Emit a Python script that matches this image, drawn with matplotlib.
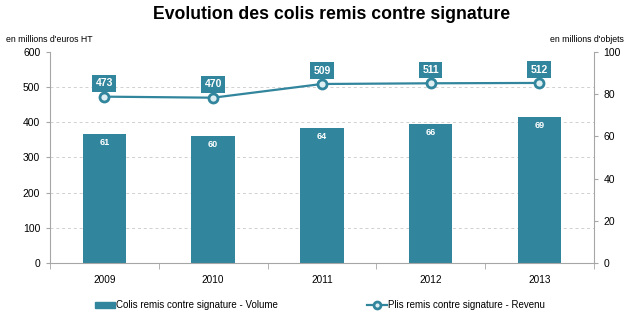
import matplotlib.pyplot as plt
from matplotlib.lines import Line2D
from matplotlib.patches import Patch

plt.rcParams['font.family'] = ['Liberation Sans', 'DejaVu Sans']

years = ["2009", "2010", "2011", "2012", "2013"]
volume = [61, 60, 64, 66, 69]          # millions d'objets (right axis)
revenue = [473, 470, 509, 511, 512]    # millions d'euros HT (left axis)

teal = "#31859C"
grey = "#A6A6A6"

fig = plt.figure(figsize=(6.33, 3.23), dpi=100)
ax = fig.add_axes([0.079, 0.186, 0.859, 0.653])
ax2 = ax.twinx()

x = list(range(len(years)))

# bars on right axis
ax2.bar(x, volume, width=0.4, color=teal, zorder=2)
for xi, v in zip(x, volume):
    ax2.text(xi, v - 4.0, str(v), ha="center", va="center", color="white",
             fontsize=6.5, fontweight="bold", zorder=3)

# line on left axis, drawn above bars
ax.set_zorder(ax2.get_zorder() + 1)
ax.patch.set_visible(False)
ax.plot(x, revenue, color=teal, lw=1.6, marker="o", ms=6.5,
        mfc="#DDEFF3", mec=teal, mew=2, zorder=4)
for xi, v in zip(x, revenue):
    ax.text(xi, v + 38, str(v), ha="center", va="center", color="white",
            fontsize=7.5, fontweight="bold", zorder=5,
            bbox=dict(boxstyle="square,pad=0.32", fc=teal, ec="none"))

ax.set_xlim(-0.5, len(years) - 0.5)
ax.set_ylim(0, 600)
ax.set_yticks(range(0, 601, 100))
ax2.set_ylim(0, 100)
ax2.set_yticks(range(0, 101, 20))

# grid behind the bars: minor ticks on the right axis at the left-axis steps
ax2.set_yticks([v / 6 for v in range(0, 601, 100)], minor=True)
ax2.tick_params(axis="y", which="minor", length=0)
ax2.yaxis.grid(True, which="minor", ls=(0, (3, 3)), color="#D0D0D0", lw=0.7)
ax2.set_axisbelow(True)

ax.set_xticks(x)
ax.set_xticklabels(years, fontsize=7.2)
ax.set_xticks([i - 0.5 for i in range(len(years) + 1)], minor=True)
ax.tick_params(axis="x", which="major", length=0, pad=9)
ax.tick_params(axis="x", which="minor", length=4, color=grey)
ax.tick_params(axis="y", labelsize=7.5, length=3, color=grey, pad=4)
ax2.tick_params(axis="y", which="major", labelsize=7.5, length=3, color=grey, pad=4)

for a in (ax, ax2):
    a.spines["top"].set_visible(False)
    for s in ("left", "right", "bottom"):
        a.spines[s].set_color(grey)
ax.spines["right"].set_visible(False)
ax2.spines["left"].set_visible(False)
ax2.spines["bottom"].set_visible(False)

fig.text(0.524, 0.956, "Evolution des colis remis contre signature", ha="center",
         va="center", fontsize=12.7, fontweight="bold")
fig.text(0.009, 0.878, "en millions d'euros HT", fontsize=6.3, va="center")
fig.text(0.986, 0.878, "en millions d'objets", fontsize=6.3, va="center", ha="right")

handles = [Patch(color=teal),
           Line2D([], [], color=teal, lw=1.6, marker="o", ms=5,
                  mfc="#DDEFF3", mec=teal, mew=2)]
labels = ["Colis remis contre signature - Volume",
          "Plis remis contre signature - Revenu"]
fig.legend(handles, labels, loc="center left", bbox_to_anchor=(0.150, 0.055),
           ncol=2, frameon=False, fontsize=7, columnspacing=9.2,
           handlelength=2.05, handleheight=0.5, handletextpad=0.1,
           borderpad=0, borderaxespad=0)

fig.savefig("out.png", dpi=100)
